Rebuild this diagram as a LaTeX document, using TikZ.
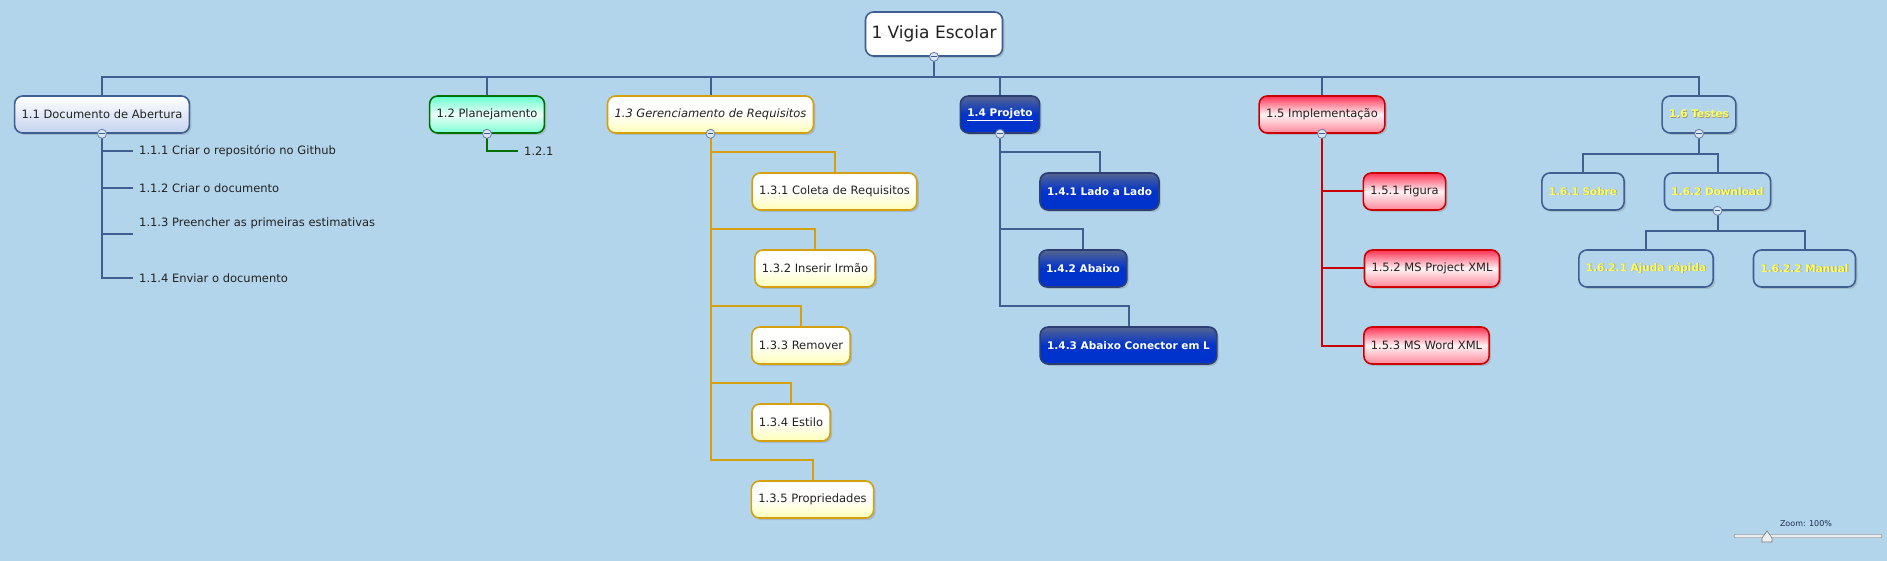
\documentclass[tikz,border=0pt]{standalone}
\usepackage{fontspec}
\setmainfont{DejaVu Sans}
\usepackage{tikz}
\usetikzlibrary{shadows,positioning}

\definecolor{fundo}{RGB}{178,213,236}
\definecolor{linhaazul}{RGB}{62,95,144}
\definecolor{texto}{RGB}{34,34,34}
\definecolor{verde}{RGB}{0,112,0}
\definecolor{verdeclaro}{RGB}{102,255,204}
\definecolor{ouro}{RGB}{212,160,16}
\definecolor{amareloclaro}{RGB}{255,255,184}
\definecolor{azultopo}{RGB}{86,101,143}
\definecolor{azulforte}{RGB}{0,51,204}
\definecolor{azulborda}{RGB}{43,63,117}
\definecolor{vermelho}{RGB}{204,0,0}
\definecolor{vermtopo}{RGB}{255,51,85}
\definecolor{vermbase}{RGB}{255,136,153}
\definecolor{lilas}{RGB}{197,211,239}
\definecolor{amarelo}{RGB}{255,255,90}
\definecolor{sombra}{RGB}{120,120,120}
\definecolor{sombratexto}{RGB}{150,150,130}
\definecolor{botao}{RGB}{221,230,244}

\newcommand{\textosombra}[1]{\rlap{\kern0.7pt\raisebox{-0.7pt}{\color{sombratexto}#1}}{\color{amarelo}#1}}

\begin{document}
\begin{tikzpicture}[x=1pt,y=-1pt]
\tikzstyle{every node}+=[font=\fontsize{11.5}{13}\selectfont, text=texto]
\tikzstyle{caixa}=[draw=linhaazul, rounded corners=8pt, line width=1.6pt, minimum height=37pt, inner xsep=7pt, inner ysep=0pt, drop shadow={opacity=0.3, shadow xshift=2pt, shadow yshift=-2pt}]
\tikzstyle{caixaabertura}=[caixa, top color=white, bottom color=lilas]
\tikzstyle{caixaplano}=[caixa, draw=verde, top color=verdeclaro, bottom color=verdeclaro!85, middle color=white!88!verdeclaro]
\tikzstyle{caixareq}=[caixa, draw=ouro, top color=white, bottom color=amareloclaro, middle color=white!96!amareloclaro]
\tikzstyle{caixaprojeto}=[caixa, draw=azulborda, top color=azultopo, bottom color=azulforte, middle color=azulforte, text=white, font=\fontsize{10.5}{12}\selectfont\bfseries]
\tikzstyle{caixaimpl}=[caixa, draw=vermelho, top color=vermtopo, bottom color=vermbase, middle color=white!94!vermtopo]
\tikzstyle{caixateste}=[caixa, fill=fundo, font=\fontsize{10.5}{12}\selectfont\bfseries]
\tikzstyle{folha}=[anchor=west, inner xsep=6pt, inner ysep=0pt]
\tikzstyle{linha}=[draw=linhaazul, line width=2pt]
\tikzstyle{recolher}=[circle, draw=linhaazul!80, fill=botao, line width=0.8pt, minimum size=9pt, inner sep=0pt, path picture={\draw[line width=1.3pt, linhaazul] ([xshift=-2.6pt]path picture bounding box.center) -- ([xshift=2.6pt]path picture bounding box.center);}]

\useasboundingbox (0,0) rectangle (1887,561);
\fill[fundo] (0,0) rectangle (1887,561);

\node[caixa, fill=white, minimum height=44pt, inner xsep=6pt, font=\fontsize{17}{20}\selectfont] (n1) at (934,34) {1 Vigia Escolar};

\node[caixaabertura] (n11) at (102,114.5) {1.1 Documento de Abertura};
\node[caixaplano] (n12) at (487,114.5) {1.2 Planejamento};
\node[caixareq] (n13) at (710.5,114.5) {\itshape 1.3 Gerenciamento de Requisitos};
\node[caixaprojeto] (n14) at (1000,114.5) {\underline{1.4 Projeto}};
\node[caixaimpl] (n15) at (1322,114.5) {1.5 Implementação};
\node[caixateste] (n16) at (1699,114.5) {\textosombra{1.6 Testes}};

\node[folha] (n111) at (133,151) {1.1.1 Criar o repositório no Github};
\node[folha] (n112) at (133,188) {1.1.2 Criar o documento};
\node[folha] (n113) at (133,223) {1.1.3 Preencher as primeiras estimativas};
\node[folha] (n114) at (133,278) {1.1.4 Enviar o documento};

\node[folha] (n121) at (518,151) {1.2.1};

\node[caixareq] (n131) at (834.5,191.5) {1.3.1 Coleta de Requisitos};
\node[caixareq] (n132) at (815,268.5) {1.3.2 Inserir Irmão};
\node[caixareq] (n133) at (801,345.5) {1.3.3 Remover};
\node[caixareq] (n134) at (791,422.5) {1.3.4 Estilo};
\node[caixareq] (n135) at (812.5,499.5) {1.3.5 Propriedades};

\node[caixaprojeto] (n141) at (1099.5,191.5) {1.4.1 Lado a Lado};
\node[caixaprojeto] (n142) at (1083,268.5) {1.4.2 Abaixo};
\node[caixaprojeto] (n143) at (1128.5,345.5) {1.4.3 Abaixo Conector em L};

\node[caixaimpl] (n151) at (1404.5,191.5) {1.5.1 Figura};
\node[caixaimpl] (n152) at (1432,268.5) {1.5.2 MS Project XML};
\node[caixaimpl] (n153) at (1426.5,345.5) {1.5.3 MS Word XML};

\node[caixateste] (n161) at (1583,191.5) {\textosombra{1.6.1 Sobre}};
\node[caixateste] (n162) at (1717.5,191.5) {\textosombra{1.6.2 Download}};
\node[caixateste] (n1621) at (1646,268.5) {\textosombra{1.6.2.1 Ajuda rápida}};
\node[caixateste] (n1622) at (1804.5,268.5) {\textosombra{1.6.2.2 Manual}};

\draw[linha] (n1.south) -- ++(0,20) coordinate (barra);
\foreach \f in {n11,n12,n13,n14,n15,n16}
  \draw[linha] (barra) -| (\f.north);

\foreach \f in {n111,n112,n114}
  \draw[linha] (n11.south) |- (\f.west);
\draw[linha] (n11.south) |- ([yshift=-11pt]n113.west);

\draw[linha, draw=verde] (n12.south) |- (n121.west);

\foreach \f in {n131,n132,n133,n134,n135}
  \draw[linha, draw=ouro] (n13.south) |- ([yshift=20pt]\f.north) -- (\f.north);

\foreach \f in {n141,n142,n143}
  \draw[linha] (n14.south) |- ([yshift=20pt]\f.north) -- (\f.north);

\foreach \f in {n151,n152,n153}
  \draw[linha, draw=vermelho] (n15.south) |- (\f.west);

\draw[linha] (n16.south) -- ++(0,20) coordinate (barra6);
\foreach \f in {n161,n162}
  \draw[linha] (barra6) -| (\f.north);
\draw[linha] (n162.south) -- ++(0,20) coordinate (barra62);
\foreach \f in {n1621,n1622}
  \draw[linha] (barra62) -| (\f.north);

\foreach \f in {n1,n11,n12,n13,n14,n15,n16,n162}
  \node[recolher] (r\f) at (\f.south) {};

\node[font=\fontsize{8}{9}\selectfont, text=azulborda!70!black] (zoom) at (1806,524) {Zoom: 100\%};
\draw[draw=sombra, fill=white!85!sombra, rounded corners=1pt] (1734,534.5) rectangle (1882,537.5);
\draw[draw=sombra, fill=white!88!sombra, line width=0.6pt] (1767,531) -- (1772,538) -- (1772,542) -- (1762,542) -- (1762,538) -- cycle;
\end{tikzpicture}
\end{document}
